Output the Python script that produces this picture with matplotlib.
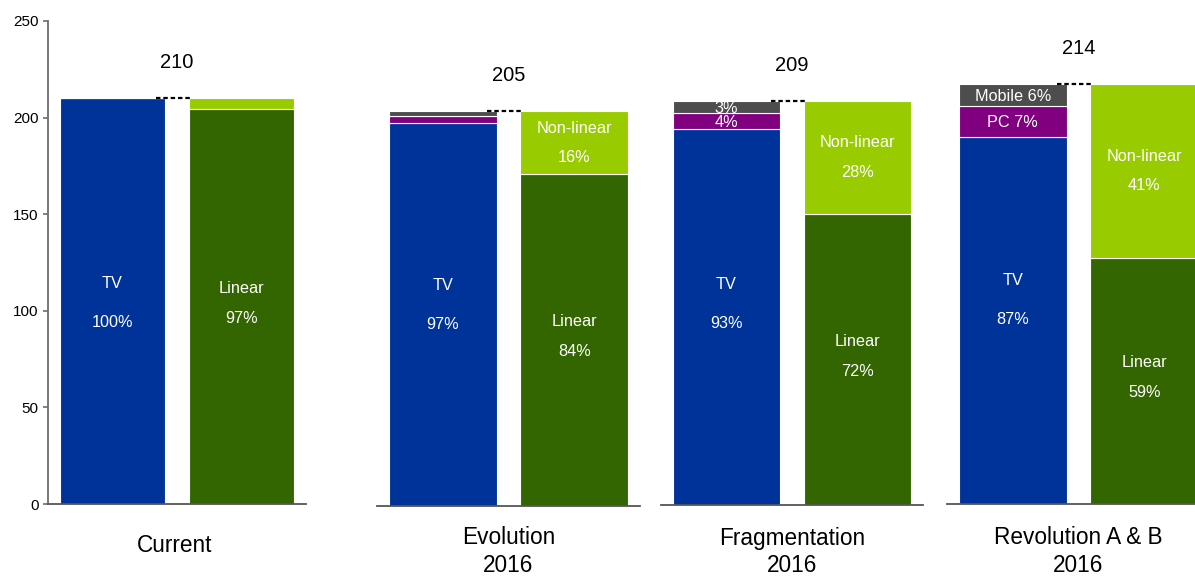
import matplotlib
matplotlib.use("Agg")
import matplotlib.pyplot as plt

plt.rcParams['font.family'] = ['Liberation Sans', 'DejaVu Sans']

# ---- data ----
scenarios = ["Current", "Evolution\n2016", "Fragmentation\n2016", "Revolution A & B\n2016"]
totals = [210, 205, 209, 214]
tv = [210, 198.6, 194.4, 186.8]
pc = [0, 3.8, 8.3, 16.1]
mobile = [0, 2.6, 6.3, 11.1]
linear = [204.7, 172.2, 150.5, 125.3]
nonlinear = [5.3, 32.8, 58.5, 88.7]
tv_labels = ["100%", "97%", "93%", "87%"]
pc_labels = ["", "", "4%", "PC 7%"]
mobile_labels = ["", "", "3%", "Mobile 6%"]
linear_labels = ["97%", "84%", "72%", "59%"]
nonlinear_labels = ["", "16%", "28%", "41%"]
yticks = [0, 50, 100, 150, 200, 250]

# ---- style ----
C_TV = "#003399"
C_PC = "#800080"
C_MOB = "#4d4d4d"
C_LIN = "#336600"
C_NL = "#99cc00"
W, H = 1195, 577
# panel pixel geometry: left, right, top, bottom, ylim top
panels = [
    (48, 306, 21, 504.0, 250),
    (377, 640, 21, 505.5, 251.8),
    (661, 923, 21, 504.7, 250.4),
    (947, 1210, 21, 504.0, 246.0),
]
BW = 0.82
TV_LABEL_Y = 104
LBL_FS = 11.7

fig = plt.figure(figsize=(W / 100, H / 100), dpi=100)

for i, (l, r, t, b, ytop) in enumerate(panels):
    ax = fig.add_axes([l / W, 1 - b / H, (r - l) / W, (b - t) / H])
    ax.set_xlim(-0.5, 1.5)
    ax.set_ylim(0, ytop)
    ax.patch.set_alpha(0)
    for s in ['top', 'right']:
        ax.spines[s].set_visible(False)
    ax.spines['bottom'].set_color('#555555')
    ax.spines['bottom'].set_linewidth(1.3)
    ax.set_xticks([])
    if i == 0:
        ax.spines['left'].set_color('#6d6d6d')
        ax.spines['left'].set_linewidth(1.3)
        ax.set_yticks(yticks)
        ax.tick_params(axis='y', length=3.6, width=1.2, color='#6d6d6d',
                       labelsize=11, pad=3.2)
    else:
        ax.spines['left'].set_visible(False)
        ax.set_yticks([])

    kw = dict(width=BW, edgecolor='white', linewidth=0.8)
    # device stack
    ax.bar(0, tv[i], color=C_TV, **kw)
    ax.bar(0, pc[i], bottom=tv[i], color=C_PC, **kw)
    ax.bar(0, mobile[i], bottom=tv[i] + pc[i], color=C_MOB, **kw)
    # viewing stack
    ax.bar(1, linear[i], color=C_LIN, **kw)
    ax.bar(1, nonlinear[i], bottom=linear[i], color=C_NL, **kw)

    # dashed connector
    ax.plot([BW / 2 - 0.07, 1 - BW / 2 + 0.02], [totals[i], totals[i]],
            color='black', lw=1.6, dashes=(2, 1.3), clip_on=False, zorder=5)
    # total label
    ax.annotate(str(totals[i]), xy=(0.5, totals[i]), xytext=(0, 25.5),
                textcoords='offset points', ha='center', va='center',
                fontsize=14.5, color='black', annotation_clip=False)

    tkw = dict(ha='center', va='center', color='white', fontsize=LBL_FS,
               textcoords='offset points')
    # TV labels
    ax.annotate("TV", xy=(0, TV_LABEL_Y), xytext=(0, 14), **tkw)
    ax.annotate(tv_labels[i], xy=(0, TV_LABEL_Y), xytext=(0, -14), **tkw)
    # PC / mobile labels
    if pc_labels[i]:
        ax.annotate(pc_labels[i], xy=(0, tv[i] + pc[i] / 2), xytext=(0, -1), **tkw)
    if mobile_labels[i]:
        ax.annotate(mobile_labels[i], xy=(0, tv[i] + pc[i] + mobile[i] / 2),
                    xytext=(0, -1), **tkw)
    # linear labels
    ym = linear[i] / 2
    ax.annotate("Linear", xy=(1, ym), xytext=(0, 13), **tkw)
    ax.annotate(linear_labels[i], xy=(1, ym), xytext=(0, -8.5), **tkw)
    # non-linear labels
    if nonlinear_labels[i]:
        yn = linear[i] + nonlinear[i] / 2
        ax.annotate("Non-linear", xy=(1, yn), xytext=(0, 10.5), **tkw)
        ax.annotate(nonlinear_labels[i], xy=(1, yn), xytext=(0, -10.5), **tkw)

    # scenario label
    cx = (l + r) / 2 if i < 3 else (l + l + 263) / 2
    if i == 0:
        cx -= 2
    lines = scenarios[i].split("\n")
    if len(lines) == 1:
        fig.text(cx / W, 1 - 545 / H, lines[0], ha='center', va='center', fontsize=16.3)
    else:
        fig.text(cx / W, 1 - 538 / H, lines[0], ha='center', va='center', fontsize=16.3)
        fig.text(cx / W, 1 - 572 / H, lines[1], ha='center', va='baseline', fontsize=16.3)

fig.savefig("out.png", dpi=100)
